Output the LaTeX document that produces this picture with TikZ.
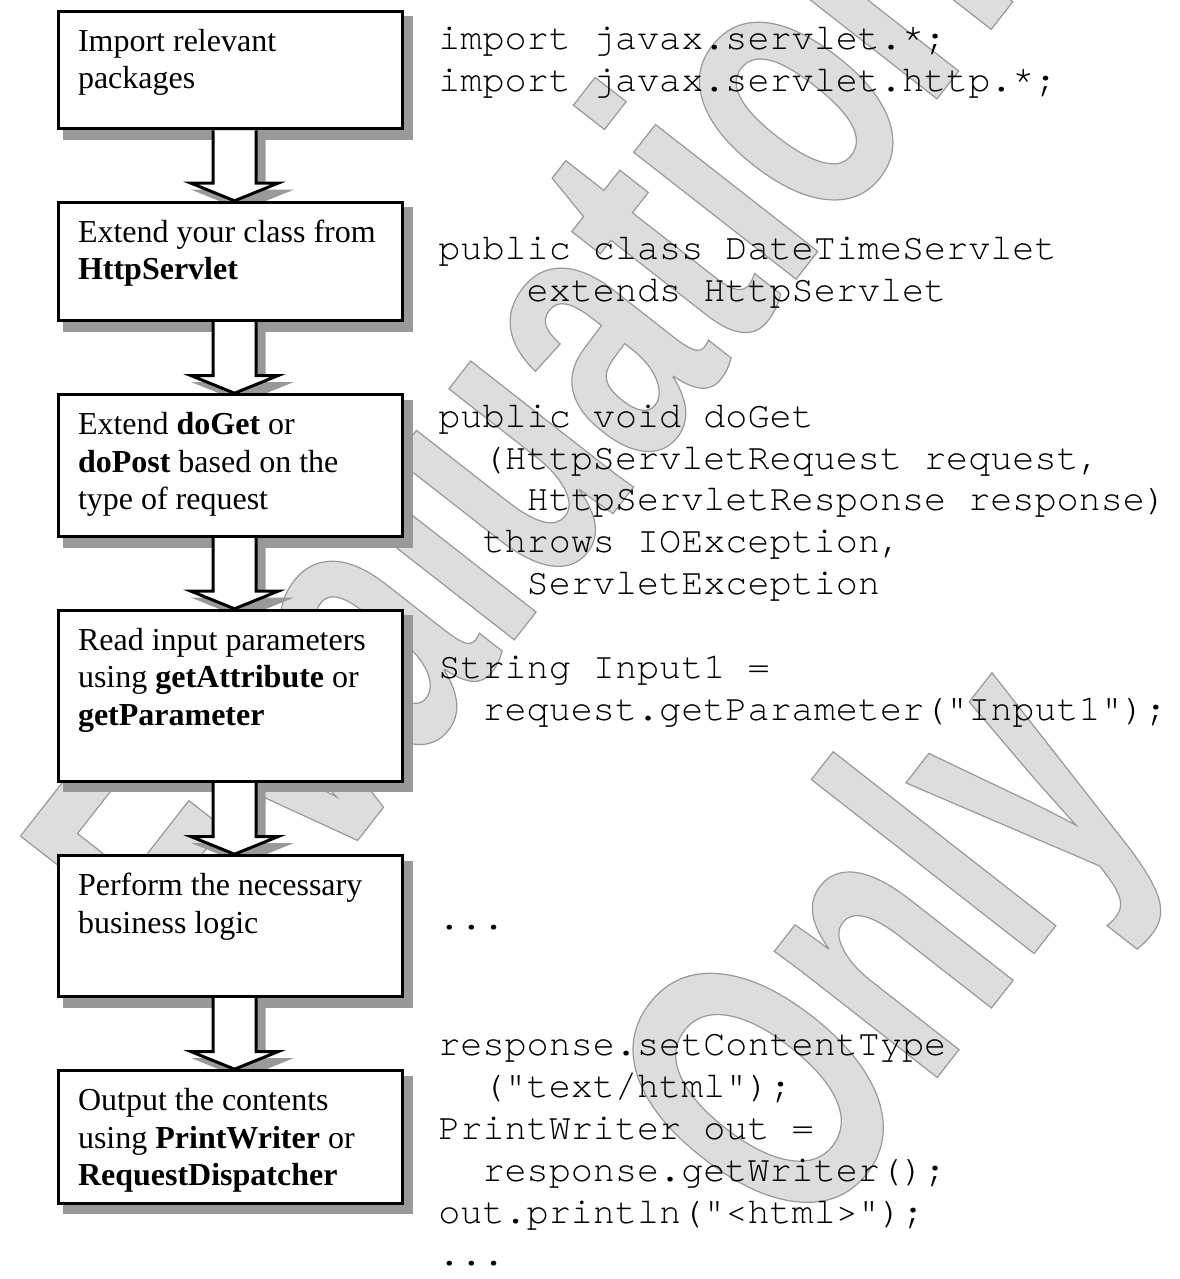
\documentclass[tikz,border=0pt]{standalone}
\usepackage{fontspec}
\setmainfont{Liberation Serif}
\newfontfamily\codefont{texgyrecursor-regular.otf}[Ligatures=TeXOff]
\newfontfamily\markfont{Liberation Sans}[FakeStretch=0.66]
\usetikzlibrary{calc}

\definecolor{shadowgray}{RGB}{153,153,153}
\definecolor{markfill}{RGB}{221,221,221}

\pgfdeclarelayer{mark}
\pgfdeclarelayer{shade}
\pgfdeclarelayer{under}
\pgfsetlayers{mark,shade,under,main}

% outlined watermark letters
\newcommand{\hollow}[1]{\special{pdf:literal direct 0.867 g 0.6 G 0.6 w 2 Tr}#1\special{pdf:literal direct 0 Tr}}
\newcommand{\steptext}[2]{\parbox[c][#1][t]{152pt}{\raggedright\strut#2}}
\newcommand{\codelines}[1]{\begin{tabular}[t]{@{}l@{}}#1\end{tabular}}

\tikzset{
  stepbox/.style={draw, fill=white, line width=1.5pt, inner xsep=10pt, inner ysep=6.8pt,
    anchor=north west, font={\fontsize{16}{18.75}\selectfont}},
  code/.style={anchor=base west, inner sep=0pt, font={\codefont\fontsize{18.4}{20.95}\selectfont}},
  markstyle/.style={anchor=base, inner sep=0pt, text=markfill, rotate=52,
    font={\markfont\bfseries\fontsize{195}{234}\selectfont}},
  flowarrow/.style={draw=black, fill=white, line width=1.5pt, miter limit=12},
  shadebox/.style={draw=shadowgray, fill=shadowgray, line width=1.5pt, miter limit=12,
    transform canvas={xshift=4pt, yshift=-4pt}}
}

\begin{document}
\begin{tikzpicture}[x=0.5pt,y=0.5pt,yscale=-1,xscale=1]
\useasboundingbox (0,0) rectangle (1179,1279);

% watermark
\begin{pgfonlayer}{mark}
\fill[white] (0,0) rectangle (1179,1279);
\node[markstyle] (markA) at (622,502) {\hollow{Evaluation}};
\node[markstyle] (markB) at (979,1024) {\hollow{Only}};
\end{pgfonlayer}

% Steps
\node[stepbox] (b1) at (56.5,9.8) {\steptext{45.25pt}{Import relevant\\packages}};
\node[stepbox] (b2) at (56.5,200.8) {\steptext{45.6pt}{Extend your class from\\\textbf{HttpServlet}}};
\node[stepbox] (b3) at (56.5,393.2) {\steptext{57.4pt}{Extend \textbf{doGet} or\\\textbf{doPost} based on the\\type of request}};
\node[stepbox] (b4) at (56.5,608.8) {\steptext{71.75pt}{Read input parameters\\using \textbf{getAttribute} or\\\textbf{getParameter}}};
\node[stepbox] (b5) at (56.5,854.2) {\steptext{56.9pt}{Perform the necessary\\business logic}};
\node[stepbox] (b6) at (56.5,1069.2) {\steptext{52.7pt}{Output the contents\\using \textbf{PrintWriter} or\\\textbf{RequestDispatcher}}};

% shadows of the steps
\begin{pgfonlayer}{shade}
\foreach \b in {b1,b2,b3,b4,b5,b6}
  \filldraw[shadebox] (\b.north west) rectangle (\b.south east);
\end{pgfonlayer}

% block arrows between the steps
\foreach \a/\b in {b1/b2,b2/b3,b3/b4,b4/b5,b5/b6}{
  \begin{pgfonlayer}{shade}
  \filldraw[shadebox] ($(\a.south)+(-17,0)$) -- ($(\b.north)+(-17,-17.6)$) -- ($(\b.north)+(-39,-17.6)$)
    -- ($(\b.north)+(4.5,0)$) -- ($(\b.north)+(48,-17.6)$) -- ($(\b.north)+(26,-17.6)$) -- ($(\a.south)+(26,0)$);
  \end{pgfonlayer}
  \begin{pgfonlayer}{under}
  \filldraw[flowarrow] ($(\a.south)+(-17,0)$) -- ($(\b.north)+(-17,-17.6)$) -- ($(\b.north)+(-39,-17.6)$)
    -- ($(\b.north)+(4.5,0)$) -- ($(\b.north)+(48,-17.6)$) -- ($(\b.north)+(26,-17.6)$) -- ($(\a.south)+(26,0)$);
  \end{pgfonlayer}
}

% Code
\node[code] (c1) at (438,50) {\codelines{import javax.servlet.*;\\import javax.servlet.http.*;}};
\node[code] (c2) at (438,259.5) {\codelines{public class DateTimeServlet\\~~~~extends HttpServlet}};
\node[code] (c3) at (438,427.1) {\codelines{public void doGet\\~~(HttpServletRequest request,\\~~~~HttpServletResponse response)\\~~throws IOException,\\~~~~ServletException}};
\node[code] (c4) at (438,678.5) {\codelines{String Input1 =\\~~request.getParameter("Input1");}};
\node[code] (c5) at (438,929.9) {\codelines{...}};
\node[code] (c6) at (438,1055.6) {\codelines{response.setContentType\\~~("text/html");\\PrintWriter out =\\~~response.getWriter();\\out.println("<html>");\\...}};
\end{tikzpicture}
\end{document}
